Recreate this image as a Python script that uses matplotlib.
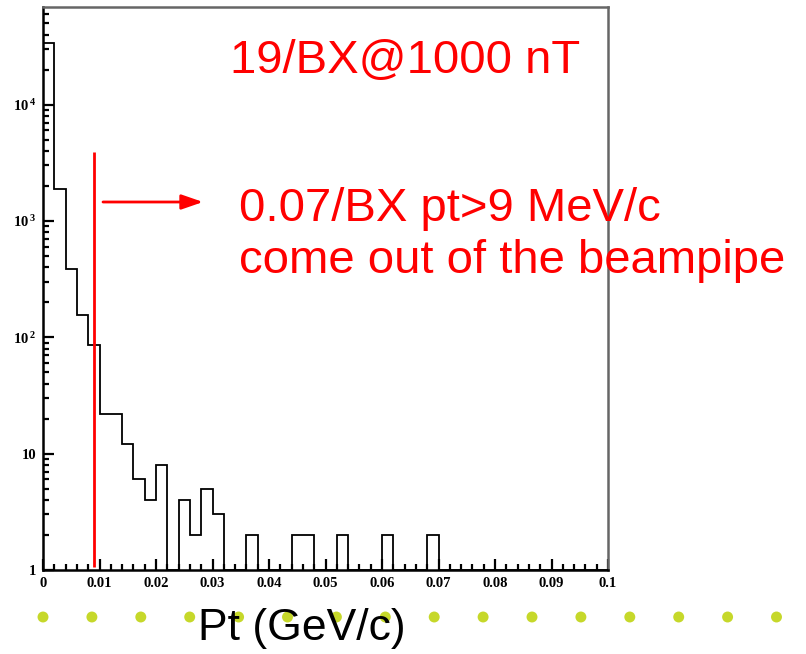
import numpy as np
import matplotlib
matplotlib.use("Agg")
import matplotlib.pyplot as plt
from matplotlib.ticker import FixedLocator, LogLocator, NullFormatter

# Pt spectrum of pairs per bunch crossing (bins of 2 MeV/c)
bin_edges = np.linspace(0.0, 0.1, 51)
counts = [34000, 1900, 390, 156, 86, 22, 22, 12, 6, 4,
          8, 0, 4, 2, 5, 3, 0, 0, 2, 0,
          0, 0, 2, 2, 0, 0, 2, 0, 0, 0,
          2, 0, 0, 0, 2, 0, 0, 0, 0, 0,
          0, 0, 0, 0, 0, 0, 0, 0, 0, 0]

pt_cut = 0.009          # GeV/c
cut_line_range = (1.06, 3900)

x_major = [0, 0.01, 0.02, 0.03, 0.04, 0.05, 0.06, 0.07, 0.08, 0.09, 0.1]
x_labels = ["0", "0.01", "0.02", "0.03", "0.04", "0.05", "0.06", "0.07",
            "0.08", "0.09", "0.1"]
y_major = [1, 10, 100, 1000, 10000]
y_labels = ["1", "10", r"$\mathbf{10^{\,2}}$", r"$\mathbf{10^{\,3}}$",
            r"$\mathbf{10^{\,4}}$"]
y_limits = (1, 6.9e4)

title_text = "19/BX@1000 nT"
note_lines = ["0.07/BX pt>9 MeV/c", "come out of the beampipe"]
x_title = "Pt (GeV/c)"

plt.rcParams["mathtext.fontset"] = "custom"
plt.rcParams["mathtext.rm"] = "Liberation Serif"
plt.rcParams["mathtext.bf"] = "Liberation Serif:bold"

W, H = 806, 654
fig = plt.figure(figsize=(W / 100, H / 100), dpi=100)
fig.patch.set_facecolor("white")

# page background layer with a row of decorative dots
fig_ax = fig.add_axes([0, 0, 1, 1], zorder=0)
fig_ax.set_xlim(0, 1)
fig_ax.set_ylim(0, 1)
fig_ax.axis("off")
dot_x = (43 + 48.9 * np.arange(-1, 16)) / W
fig_ax.scatter(dot_x, np.full_like(dot_x, 1 - 617 / H), s=62,
               color="#c6d82a", edgecolors="none")

ax = fig.add_axes([43 / W, 1 - 570 / H, (608 - 43) / W, (570 - 7) / H], zorder=2)
ax.set_facecolor("none")
ax.set_yscale("log")
ax.set_xlim(0, 0.1)
ax.set_ylim(*y_limits)

ymin = y_limits[0]
ax.stairs(np.maximum(np.array(counts, float), ymin), bin_edges,
          baseline=ymin, color="black", linewidth=1.3, zorder=3)

ax.vlines(pt_cut, *cut_line_range, color="#ff0000", linewidth=2.0, zorder=4)

ax.xaxis.set_major_locator(FixedLocator(x_major))
ax.xaxis.set_minor_locator(FixedLocator(np.arange(0, 0.1001, 0.002)))
ax.set_xticklabels(x_labels)
ax.yaxis.set_major_locator(FixedLocator(y_major))
ax.yaxis.set_minor_locator(LogLocator(base=10, subs=np.arange(2, 10)))
ax.yaxis.set_minor_formatter(NullFormatter())
ax.set_yticklabels(y_labels)

for lab in ax.get_xticklabels() + ax.get_yticklabels():
    lab.set_fontfamily("Liberation Serif")
    lab.set_fontweight("bold")
    lab.set_fontsize(10.5)

ax.tick_params(axis="both", which="major", direction="in", length=8,
               width=1.6, pad=5, top=False, right=False)
ax.tick_params(axis="both", which="minor", direction="in", length=4.5,
               width=1.6, top=False, right=False)

for side in ("left", "bottom"):
    ax.spines[side].set_color("black")
    ax.spines[side].set_linewidth(1.8)
for side in ("top", "right"):
    ax.spines[side].set_color("#666666")
    ax.spines[side].set_linewidth(1.8)

red = "#ff0000"
fig.text(230 / W, 1 - 73 / H, title_text, color=red, fontsize=34,
         family="Liberation Sans", ha="left", va="baseline", zorder=5)
for line, base in zip(note_lines, (221, 273)):
    fig.text(239 / W, 1 - base / H, line, color=red, fontsize=34,
             family="Liberation Sans", ha="left", va="baseline", zorder=5)

fig_ax.annotate("", xy=(203 / W, 1 - 202 / H), xytext=(103 / W, 1 - 202 / H),
                arrowprops=dict(arrowstyle="-|>,head_length=1.3,head_width=0.45",
                                color=red, lw=2, shrinkA=0, shrinkB=0))

fig.text(302 / W, 1 - 640 / H, x_title, color="black", fontsize=32,
         family="Liberation Sans", ha="center", va="baseline", zorder=5)

fig.savefig("out.png", dpi=100, facecolor="white")
